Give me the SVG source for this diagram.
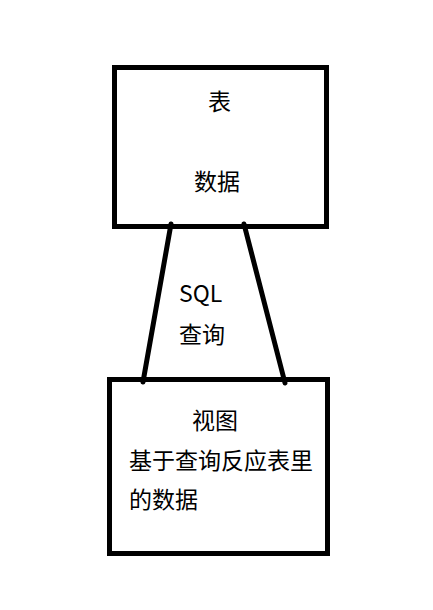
<svg xmlns="http://www.w3.org/2000/svg" width="433" height="610" viewBox="0 0 433 610">
<style>
.box{fill:#fff;stroke:#000;stroke-width:5}
.ln{stroke:#000;stroke-width:5;stroke-linecap:round;fill:none}
text{font-family:"Noto Sans CJK SC","Noto Sans",sans-serif;font-size:23px;fill:#000}
</style>
<rect width="433" height="610" fill="#fff"/>
<g id="table">
<rect class="box" x="114.5" y="67.5" width="212" height="159"/>
<text x="208" y="110">表</text>
<text x="194" y="190">数据</text>
</g>
<g id="view">
<rect class="box" x="109.5" y="379.5" width="218" height="174"/>
<text x="192" y="429">视图</text>
<text x="129" y="469">基于查询反应表里</text>
<text x="129" y="508">的数据</text>
</g>
<g id="connectors">
<line class="ln" x1="171" y1="224" x2="143" y2="382"/>
<line class="ln" x1="244" y1="224" x2="285" y2="383"/>
<text x="179" y="302">SQL</text>
<text x="179" y="343">查询</text>
</g>
</svg>
